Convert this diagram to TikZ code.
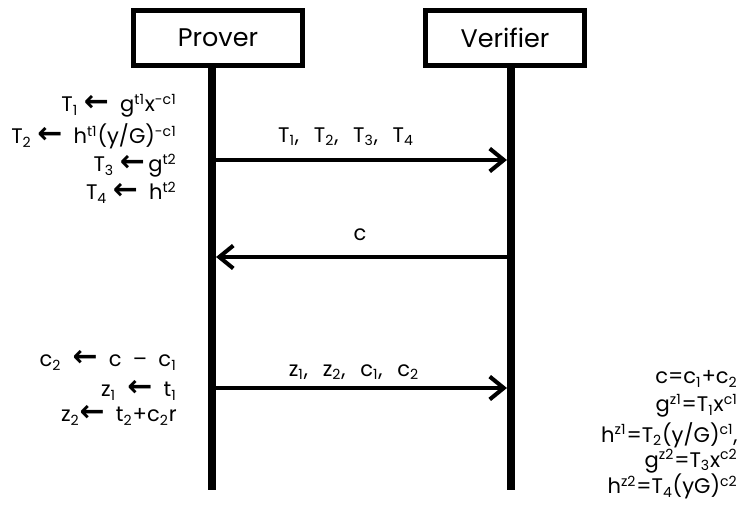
\documentclass[tikz,border=0pt]{standalone}
\usepackage{fontspec}
\setmainfont{Poppins}
\newfontfamily\arrowfont{DejaVu Sans}
\usetikzlibrary{arrows.meta}

\newcommand{\asgn}{{\arrowfont\bfseries\fontsize{17}{17}\selectfont ←}}
\newcommand{\lo}[1]{\textsubscript{#1}}
\newcommand{\hi}[1]{\textsuperscript{#1}}

\begin{document}
\begin{tikzpicture}[x=0.02cm,y=-0.02cm,
  actor/.style={draw,line width=2.8pt,minimum width=3.38cm,minimum height=1.1cm,
    inner sep=0pt,font=\fontsize{14.5}{16}\selectfont},
  lifeline/.style={line width=4.5pt},
  msg/.style={line width=2.3pt,-{Straight Barb[length=8pt,width=13pt]},shorten >=2.3pt},
  lbl/.style={inner sep=0pt,font=\fontsize{12}{14}\selectfont}]
\useasboundingbox (0,0) rectangle (740,509);

% the two parties
\node[actor] (prover) at (218,38) {Prover};
\node[actor,minimum width=3.18cm] (verifier) at (505,38) {Verifier};
\coordinate (pend) at (212,490);
\coordinate (vend) at (511,490);
\draw[lifeline] (prover.south -| pend) -- (pend);
\draw[lifeline] (verifier.south -| vend) -- (vend);

% commitment
\node[lbl,anchor=base east] (t1) at (177,112) {T\lo{1} \asgn\ \ g\hi{t1}x\hi{-c1}};
\node[lbl,anchor=base east] (t2) at (177,144) {T\lo{2} \asgn\ \ h\hi{t1}(y/G)\hi{-c1}};
\node[lbl,anchor=base east] (t3) at (177,172) {T\lo{3} \asgn\,g\hi{t2}};
\node[lbl,anchor=base east] (t4) at (177,200) {T\lo{4} \asgn\ \ h\hi{t2}};
\coordinate (p1) at (212,160);
\coordinate (v1) at (511,160);
\draw[msg] (p1) -- (v1);
\node[lbl] (m1) at (346,137) {T\lo{1},\hspace{0.7em}T\lo{2},\hspace{0.7em}T\lo{3},\hspace{0.7em}T\lo{4}};

% challenge
\coordinate (v2) at (511,257);
\coordinate (p2) at (212,257);
\draw[msg] (v2) -- (p2);
\node[lbl] (m2) at (360,235) {c};

% response
\node[lbl,anchor=base east] (r1) at (177,367) {c\lo{2} \ \asgn\ \ c \ – \ c\lo{1}};
\node[lbl,anchor=base east] (r2) at (177,397) {z\lo{1} \ \asgn\ \ t\lo{1}};
\node[lbl,anchor=base east] (r3) at (177,422) {z\lo{2}\asgn\ \ t\lo{2}+c\lo{2}r};
\coordinate (p3) at (212,388);
\coordinate (v3) at (511,388);
\draw[msg] (p3) -- (v3);
\node[lbl] (m3) at (354,372) {z\lo{1},\hspace{0.7em}z\lo{2},\hspace{0.7em}c\lo{1},\hspace{0.7em}c\lo{2}};

% verification
\node[lbl,anchor=base east] (e1) at (738,384) {c=c\lo{1}+c\lo{2}};
\node[lbl,anchor=base east] (e2) at (738,412) {g\hi{z1}=T\lo{1}x\hi{c1}};
\node[lbl,anchor=base east] (e3) at (738,442) {h\hi{z1}=T\lo{2}(y/G)\hi{c1},};
\node[lbl,anchor=base east] (e4) at (738,467) {g\hi{z2}=T\lo{3}x\hi{c2}};
\node[lbl,anchor=base east] (e5) at (738,494) {h\hi{z2}=T\lo{4}(yG)\hi{c2}};
\end{tikzpicture}
\end{document}
